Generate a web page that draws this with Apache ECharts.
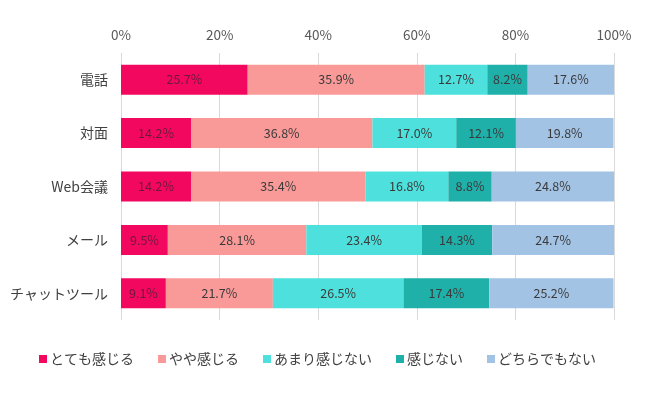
<!DOCTYPE html>
<html>
<head>
<meta charset="utf-8">
<script src="https://cdn.jsdelivr.net/npm/echarts@6/dist/echarts.min.js"></script>
<style>
  html, body { margin: 0; padding: 0; background: #fff; }
  #chart { width: 650px; height: 404px; }
</style>
</head>
<body>
<div id="chart"></div>
<script>
var categories = ['電話', '対面', 'Web会議', 'メール', 'チャットツール'];
var seriesNames = ['とても感じる', 'やや感じる', 'あまり感じない', '感じない', 'どちらでもない'];
var veryMuch = [25.7, 14.2, 14.2, 9.5, 9.1];
var somewhat = [35.9, 36.8, 35.4, 28.1, 21.7];
var notMuch = [12.7, 17.0, 16.8, 23.4, 26.5];
var notAtAll = [8.2, 12.1, 8.8, 14.3, 17.4];
var neither = [17.6, 19.8, 24.8, 24.7, 25.2];
var colors = ['#f2085f', '#f99a98', '#4de0dc', '#1fb0aa', '#a3c3e5'];

var allData = [veryMuch, somewhat, notMuch, notAtAll, neither];
var fontFamily = '"Noto Sans CJK JP", "Noto Sans", sans-serif';

var series = [];
for (var i = 0; i < allData.length; i++) {
  series.push({
    name: seriesNames[i],
    type: 'bar',
    stack: 'total',
    barWidth: 30,
    data: allData[i],
    itemStyle: { color: colors[i] },
    label: {
      show: true,
      position: 'inside',
      formatter: function(p) { return p.value.toFixed(1) + '%'; },
      color: i == 0 ? '#6a1840' : '#3a3a3a',
      fontSize: 12.5,
      fontFamily: fontFamily
    }
  });
}

var myChart = echarts.init(document.getElementById('chart'));
myChart.setOption({
  backgroundColor: '#fff',
  animation: false,
  color: colors,
  textStyle: { fontFamily: fontFamily },
  grid: { left: 121, right: 36, top: 53, height: 267, containLabel: false },
  legend: {
    data: seriesNames,
    bottom: 33,
    left: 34,
    itemWidth: 8,
    itemHeight: 8,
    itemGap: 24,
    icon: 'rect',
    textStyle: { fontSize: 14, color: '#404040', fontFamily: fontFamily, padding: [0, 0, 0, -2] }
  },
  xAxis: {
    type: 'value',
    position: 'top',
    min: 0,
    max: 100,
    interval: 20,
    axisLine: { show: false },
    axisTick: { show: false },
    axisLabel: { formatter: '{value}%', color: '#595959', fontSize: 13.5, margin: 11 },
    splitLine: { lineStyle: { color: '#d9d9d9' } }
  },
  yAxis: {
    type: 'category',
    inverse: true,
    data: categories,
    axisLine: { show: false },
    axisTick: { show: false },
    axisLabel: { color: '#404040', fontSize: 14, margin: 13 }
  },
  series: series
});
</script>
</body>
</html>
